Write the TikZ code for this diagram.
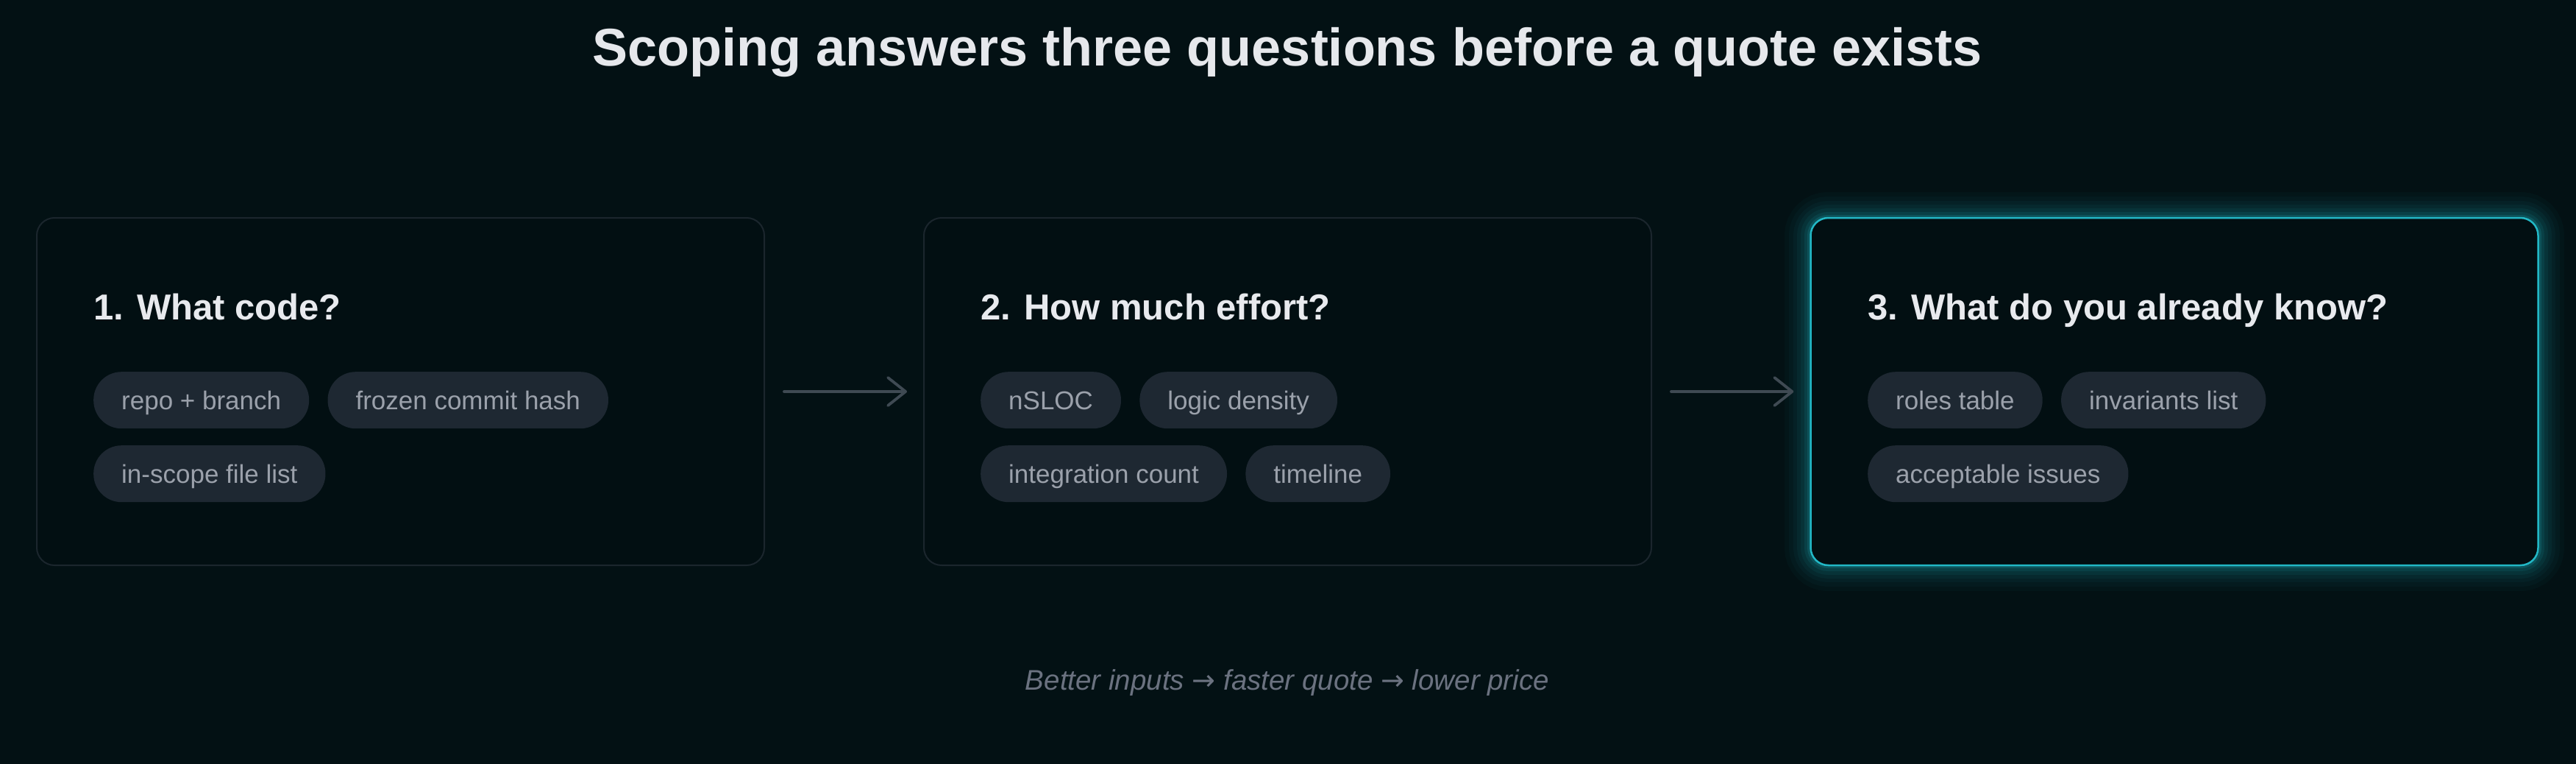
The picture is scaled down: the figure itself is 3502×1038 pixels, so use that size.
\documentclass[tikz,border=0pt]{standalone}
\usepackage{fontspec}
\setmainfont{Liberation Sans}
\newfontfamily\arrowfont{DejaVu Sans}
\usetikzlibrary{arrows.meta,positioning}
\definecolor{bg}{HTML}{031114}
\definecolor{cardfill}{HTML}{020F12}
\definecolor{cardline}{HTML}{1B262D}
\definecolor{pillfill}{HTML}{1E2832}
\definecolor{pilltext}{HTML}{9BA1AB}
\definecolor{headc}{HTML}{E8EAEE}
\definecolor{titlec}{HTML}{E6E8EC}
\definecolor{capc}{HTML}{6B7280}
\definecolor{arrowc}{HTML}{3F4A53}
\definecolor{accent}{HTML}{22B8C6}
\tikzset{
  card/.style={draw=cardline, line width=2pt, fill=cardfill, rounded corners=24pt,
    minimum width=989pt, minimum height=472pt, inner sep=0pt},
  hotcard/.style={card, draw=accent, line width=2.5pt},
  glowline/.style={draw=accent, rounded corners=24pt},
  head/.style={anchor=base west, text=headc, inner sep=0pt,
    font=\bfseries\fontsize{49}{60}\selectfont},
  pill/.style={fill=pillfill, text=pilltext, rounded corners=38pt,
    minimum height=77pt, inner xsep=38pt, inner ysep=0pt,
    text height=32pt, text depth=7pt, font=\fontsize{35}{40}\selectfont},
  flow/.style={draw=arrowc, line width=3.8pt, line cap=round,
    -{Straight Barb[length=24pt,width=38pt,round]},
    shorten <=26pt, shorten >=22pt},
}
\begin{document}
\begin{tikzpicture}[x=1pt,y=-1pt]
\fill[bg] (0,0) rectangle (3502,1038);
\useasboundingbox (0,0) rectangle (3502,1038);

% title
\node[anchor=base, text=titlec, inner sep=0pt, font=\bfseries\fontsize{72}{80}\selectfont]
  (title) at (1750,90) {Scoping answers three questions before a quote exists};

% glow of the third card
\coordinate (g3a) at (2461,296);
\coordinate (g3b) at (3451,768);
\foreach \w/\o in {70/0.03,58/0.035,46/0.045,36/0.055,26/0.07,16/0.1,8/0.16}{
  \draw[glowline, line width=\w pt, opacity=\o] (g3a) rectangle (g3b);
}

% cards
\node[card] (b1) at (544.5,532) {};
\node[card] (b2) at (1750.5,532) {};
\node[hotcard] (b3) at (2956,532) {};

% headings
\node[head] (h1) at (127,434) {1. What code?};
\node[head] (h2) at (1333,434) {2. How much effort?};
\node[head] (h3) at (2539,434) {3. What do you already know?};

% pills card 1
\node[pill, anchor=north west] (p11) at (127,505) {repo + branch};
\node[pill, right=25pt of p11] (p12) {frozen commit hash};
\node[pill, anchor=north west] (p13) at (127,605) {in-scope file list};
% pills card 2
\node[pill, anchor=north west] (p21) at (1333,505) {nSLOC};
\node[pill, right=25pt of p21] (p22) {logic density};
\node[pill, anchor=north west] (p23) at (1333,605) {integration count};
\node[pill, right=25pt of p23] (p24) {timeline};
% pills card 3
\node[pill, anchor=north west] (p31) at (2539,505) {roles table};
\node[pill, right=25pt of p31] (p32) {invariants list};
\node[pill, anchor=north west] (p33) at (2539,605) {acceptable issues};

% connectors
\draw[flow] (b1.east) -- (b2.west);
\draw[flow] (b2.east) -- (b3.west);

% caption
\node[anchor=base, text=capc, inner sep=0pt, font=\itshape\fontsize{38.5}{44}\selectfont]
  (cap) at (1750,937) {Better inputs {\arrowfont\upshape\fontsize{38}{44}\selectfont →} faster quote {\arrowfont\upshape\fontsize{38}{44}\selectfont →} lower price};
\end{tikzpicture}
\end{document}
